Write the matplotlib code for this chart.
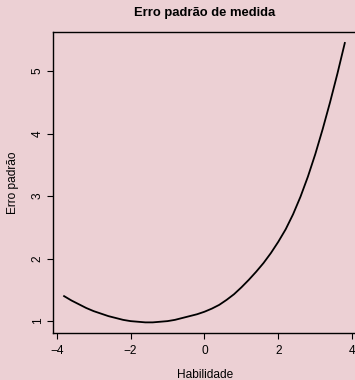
import matplotlib
matplotlib.use("Agg")
import matplotlib.pyplot as plt

habilidade = [-3.8, -3.6, -3.4, -3.2, -3.0, -2.8, -2.6, -2.4, -2.2, -2.0,
              -1.8, -1.6, -1.4, -1.2, -1.0, -0.8, -0.6, -0.4, -0.2, 0.0,
              0.2, 0.4, 0.6, 0.8, 1.0, 1.2, 1.4, 1.6, 1.8, 2.0,
              2.2, 2.4, 2.6, 2.8, 3.0, 3.2, 3.4, 3.6, 3.8]
erro_padrao = [1.40, 1.33, 1.27, 1.21, 1.16, 1.12, 1.08, 1.05, 1.02, 1.00,
               0.99, 0.98, 0.98, 0.99, 1.00, 1.02, 1.05, 1.08, 1.11, 1.15,
               1.20, 1.26, 1.34, 1.43, 1.54, 1.66, 1.79, 1.93, 2.09, 2.27,
               2.47, 2.71, 2.99, 3.31, 3.67, 4.07, 4.50, 4.96, 5.45]
x_ticks = [-4, -2, 0, 2, 4]
y_ticks = [1, 2, 3, 4, 5]

bg = '#ECD0D4'
plt.rcParams['font.family'] = ['Liberation Sans', 'DejaVu Sans']

fig = plt.figure(figsize=(3.55, 3.8), dpi=100, facecolor=bg)
W, H = 355, 380
# axes box in pixels: left 53, top 31.7, bottom 333, right just past the edge
ax = fig.add_axes([53 / W, (H - 333) / H, 304 / W, (333 - 31.7) / H])
ax.set_facecolor(bg)

ax.plot(habilidade, erro_padrao, color='black', lw=1.3,
        solid_joinstyle='round')

ax.set_xlim(-4.10, 4.13)
ax.set_ylim(0.81, 5.63)
ax.set_xticks(x_ticks)
ax.set_yticks(y_ticks)

for s in ax.spines.values():
    s.set_linewidth(1.0)
ax.spines['right'].set_visible(False)

ax.tick_params(axis='both', direction='out', length=4.3, width=0.8,
               labelsize=8.6, colors='black')
ax.tick_params(axis='x', pad=4.6)
ax.tick_params(axis='y', pad=2.4, labelrotation=90)
for lab in ax.get_yticklabels():
    lab.set_va('center')

ax.set_title('Erro padrão de medida', fontsize=9.4, fontweight='bold',
             y=1.061, va='center', pad=0)
ax.set_xlabel('Habilidade', fontsize=8.6, va='center')
ax.xaxis.set_label_coords(0.5, -0.139)
ax.set_ylabel('Erro padrão', fontsize=8.6, va='center')
ax.yaxis.set_label_coords(-0.131, 0.5)

fig.savefig('out.png', dpi=100, facecolor=bg)
